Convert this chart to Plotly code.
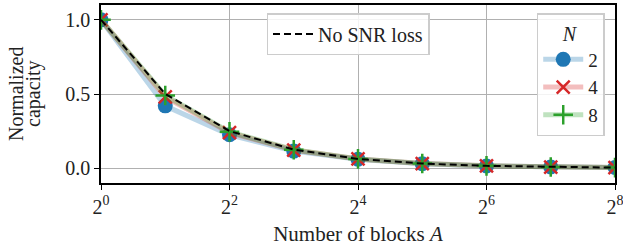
import plotly.graph_objects as go

A = [1, 2, 4, 8, 16, 32, 64, 128, 256]
cap_n2 = [1.0, 0.42, 0.225, 0.115, 0.06, 0.03, 0.015, 0.008, 0.004]
cap_n4 = [1.0, 0.48, 0.24, 0.122, 0.062, 0.031, 0.0155, 0.0078, 0.0039]
cap_n8 = [1.0, 0.49, 0.245, 0.124, 0.0625, 0.031, 0.0156, 0.0078, 0.0039]
no_loss = [1.0, 0.5, 0.25, 0.125, 0.0625, 0.03125, 0.015625, 0.0078125, 0.00390625]
x_tickvals = [1, 4, 16, 64, 256]
x_ticktext = ["2<sup>0</sup>", "2<sup>2</sup>", "2<sup>4</sup>", "2<sup>6</sup>", "2<sup>8</sup>"]
y_tickvals = [0.0, 0.5, 1.0]
y_ticktext = ["0.0", "0.5", "1.0"]
y_title_lines = ["Normalized", "capacity"]

FONT = "Liberation Serif, Times New Roman, serif"
FS = 20
L, R, T, B = 101, 8, 5, 67
PW = 623 - L - R

fig = go.Figure()
fig.add_trace(go.Scatter(x=A, y=cap_n2, name="2", mode="lines+markers",
                         line=dict(color="rgba(31,119,180,0.3)", width=5),
                         marker=dict(symbol="circle", size=15, color="#1f77b4"),
                         legend="legend2", showlegend=True))
fig.add_trace(go.Scatter(x=A, y=cap_n4, name="4", mode="lines+markers",
                         line=dict(color="rgba(214,39,40,0.3)", width=5),
                         marker=dict(symbol="x-thin", size=13, color="#d62728",
                                     line=dict(color="#d62728", width=2.5)),
                         legend="legend2", showlegend=True))
fig.add_trace(go.Scatter(x=A, y=cap_n8, name="8", mode="lines+markers",
                         line=dict(color="rgba(44,160,44,0.3)", width=5),
                         marker=dict(symbol="cross-thin", size=14, color="#2ca02c",
                                     line=dict(color="#2ca02c", width=2.5)),
                         legend="legend2", showlegend=True))
fig.add_trace(go.Scatter(x=A, y=no_loss, name="No SNR loss", mode="lines",
                         line=dict(color="black", width=2, dash="7px,4px"),
                         legend="legend", showlegend=True))

axis_common = dict(showline=True, linecolor="black", linewidth=1.5, mirror=True,
                   ticks="outside", ticklen=5, tickcolor="black", tickwidth=1.2,
                   showgrid=True, gridcolor="#b0b0b0", gridwidth=1.2, zeroline=False,
                   automargin=False, ticklabeloverflow="allow",
                   tickfont=dict(family=FONT, size=FS, color="#222"))
fig.update_xaxes(type="log", range=[0, 2.40824], tickvals=x_tickvals, ticktext=x_ticktext,
                 title=dict(text="Number of blocks <i>A</i>", font=dict(family=FONT, size=21, color="#222"),
                            standoff=10), **axis_common)
fig.update_yaxes(range=[-0.1, 1.1], tickvals=y_tickvals, ticktext=y_ticktext, **axis_common)

for txt, xc in zip(y_title_lines, [16, 33]):
    fig.add_annotation(text=txt, xref="paper", yref="paper", x=(xc - L) / PW, y=0.5,
                       xanchor="center", yanchor="middle", showarrow=False, textangle=-90,
                       font=dict(family=FONT, size=FS, color="#222"))

fig.update_layout(
    width=623, height=250,
    margin=dict(l=L, r=R, t=T, b=B),
    showlegend=True,
    plot_bgcolor="white", paper_bgcolor="white",
    font=dict(family=FONT, size=FS, color="#222"),
    legend=dict(x=0.322, y=0.955, xanchor="left", yanchor="top", itemwidth=40,
                bgcolor="rgba(255,255,255,0.85)", bordercolor="#cccccc", borderwidth=1.5,
                font=dict(family=FONT, size=FS)),
    legend2=dict(x=0.98, y=0.955, xanchor="right", yanchor="top", itemwidth=40,
                 bgcolor="rgba(255,255,255,0.85)", bordercolor="#cccccc", borderwidth=1.5,
                 title=dict(text="<i>N</i>", side="top center", font=dict(family=FONT, size=FS)),
                 font=dict(family=FONT, size=19), tracegroupgap=0),
)
fig.write_html("out.html", config={"displayModeBar": False},
               post_script="document.body.style.margin='0';")
